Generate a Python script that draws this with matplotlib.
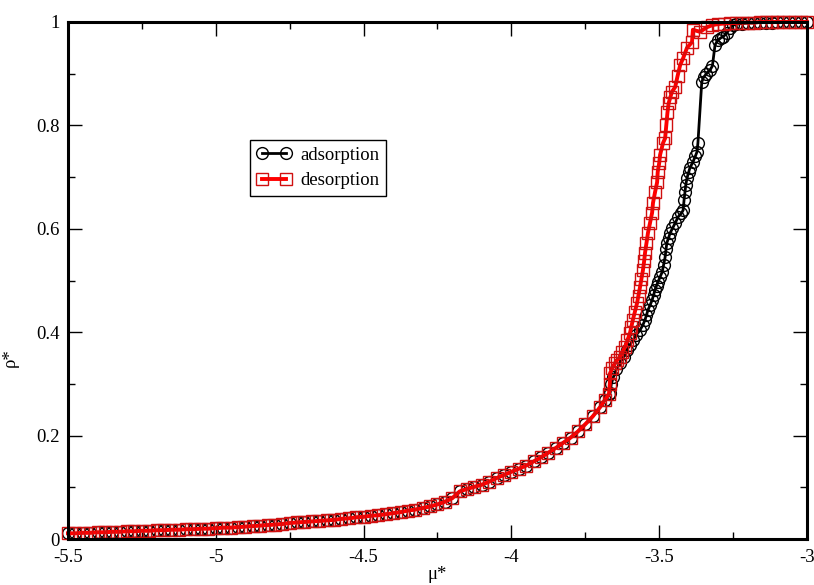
#!/usr/bin/env python
# -*- coding: utf-8 -*-
import matplotlib
matplotlib.use('Agg')
import matplotlib.pyplot as plt
from matplotlib.ticker import MultipleLocator, FormatStrFormatter

plt.rcParams['font.family'] = ['Liberation Serif', 'DejaVu Serif']
plt.rcParams['axes.unicode_minus'] = False

# common low-pressure part (both branches lie on top of each other here)
mu_low = [-5.500, -5.475, -5.450, -5.425, -5.400, -5.375, -5.350, -5.325,
          -5.300, -5.275, -5.250, -5.225, -5.200, -5.175, -5.150, -5.125,
          -5.100, -5.075, -5.050, -5.025, -5.000, -4.975, -4.950, -4.925,
          -4.900, -4.875, -4.850, -4.825, -4.800, -4.775, -4.750, -4.725,
          -4.700, -4.675, -4.650, -4.625, -4.600, -4.575, -4.550, -4.525,
          -4.500, -4.475, -4.450, -4.425, -4.400, -4.375, -4.350, -4.325,
          -4.300, -4.275, -4.250, -4.225, -4.200, -4.175, -4.150, -4.125,
          -4.100, -4.075, -4.050, -4.025, -4.000, -3.975, -3.950, -3.925,
          -3.900, -3.875, -3.850, -3.825, -3.800, -3.775, -3.750, -3.725,
          -3.700, -3.685, -3.670]
rho_low = [0.011, 0.011, 0.012, 0.012, 0.013, 0.013, 0.014, 0.014,
           0.015, 0.015, 0.016, 0.016, 0.017, 0.017, 0.018, 0.018,
           0.019, 0.019, 0.020, 0.020, 0.021, 0.022, 0.022, 0.023,
           0.024, 0.025, 0.026, 0.027, 0.028, 0.029, 0.031, 0.032,
           0.033, 0.034, 0.035, 0.036, 0.037, 0.039, 0.040, 0.042,
           0.043, 0.045, 0.046, 0.048, 0.050, 0.052, 0.055, 0.057,
           0.060, 0.063, 0.067, 0.072, 0.079, 0.092, 0.097, 0.101,
           0.105, 0.111, 0.118, 0.124, 0.130, 0.136, 0.142, 0.150,
           0.158, 0.167, 0.176, 0.186, 0.196, 0.208, 0.222, 0.237,
           0.255, 0.268, 0.280]

# adsorption branch after the split
mu_ads = [-3.666, -3.662, -3.655, -3.645, -3.633, -3.620, -3.609, -3.598,
          -3.589, -3.577, -3.565, -3.555, -3.548, -3.543, -3.538, -3.531,
          -3.524, -3.519, -3.514, -3.509, -3.504, -3.497, -3.490, -3.485,
          -3.480, -3.477, -3.474, -3.468, -3.463, -3.455, -3.446, -3.436,
          -3.425, -3.419, -3.416, -3.413, -3.410, -3.406, -3.400, -3.396,
          -3.386, -3.378, -3.372, -3.369, -3.356, -3.350, -3.340, -3.328,
          -3.320, -3.311, -3.301, -3.290, -3.284, -3.271, -3.260, -3.250,
          -3.240, -3.220, -3.200, -3.180, -3.160, -3.140, -3.120, -3.100,
          -3.080, -3.060, -3.040, -3.020, -3.000]
rho_ads = [0.282, 0.300, 0.313, 0.328, 0.340, 0.353, 0.366, 0.376,
           0.385, 0.395, 0.404, 0.414, 0.424, 0.433, 0.443, 0.452,
           0.462, 0.472, 0.482, 0.490, 0.497, 0.507, 0.516, 0.530,
           0.545, 0.560, 0.573, 0.583, 0.592, 0.601, 0.611, 0.623,
           0.630, 0.636, 0.655, 0.671, 0.685, 0.698, 0.710, 0.718,
           0.729, 0.740, 0.749, 0.766, 0.884, 0.893, 0.900, 0.907,
           0.915, 0.956, 0.965, 0.970, 0.971, 0.979, 0.988, 0.994,
           0.996, 0.997, 0.998, 0.998, 0.999, 0.999, 0.999, 1.000,
           1.000, 1.000, 1.000, 1.000, 1.000]

# desorption branch after the split
mu_des = [-3.667, -3.666, -3.658, -3.650, -3.642, -3.633, -3.625, -3.616,
          -3.608, -3.599, -3.594, -3.589, -3.582, -3.575, -3.570, -3.565,
          -3.560, -3.555, -3.551, -3.548, -3.543, -3.538, -3.531, -3.524,
          -3.521, -3.514, -3.507, -3.505, -3.500, -3.497, -3.487, -3.480,
          -3.476, -3.472, -3.468, -3.462, -3.457, -3.446, -3.438, -3.429,
          -3.419, -3.406, -3.389, -3.386, -3.362, -3.338, -3.320, -3.300,
          -3.280, -3.260, -3.240, -3.220, -3.200, -3.180, -3.160, -3.140,
          -3.120, -3.100, -3.080, -3.060, -3.040, -3.020, -3.000]
rho_des = [0.300, 0.321, 0.331, 0.340, 0.346, 0.352, 0.361, 0.371,
           0.384, 0.398, 0.411, 0.424, 0.440, 0.456, 0.471, 0.487,
           0.503, 0.520, 0.537, 0.553, 0.572, 0.592, 0.611, 0.631,
           0.650, 0.671, 0.690, 0.710, 0.727, 0.743, 0.766, 0.775,
           0.800, 0.825, 0.843, 0.855, 0.865, 0.874, 0.895, 0.917,
           0.930, 0.950, 0.961, 0.985, 0.981, 0.990, 0.994, 0.996,
           0.997, 0.998, 0.998, 0.999, 0.999, 0.999, 1.000, 1.000,
           1.000, 1.000, 1.000, 1.000, 1.000, 1.000, 1.000]

fig = plt.figure(figsize=(8.14, 5.85), dpi=100)
ax = fig.add_axes([0.0835, 0.0786, 0.9079, 0.8838])

ax.plot(mu_low + mu_ads, rho_low + rho_ads, color='black', lw=2.0,
        marker='o', ms=8.5, mfc='none', mec='black', mew=1.0,
        label='adsorption', clip_on=False, zorder=3)
ax.plot(mu_low + mu_des, rho_low + rho_des, color='red', lw=2.8,
        marker='s', ms=9, mfc='none', mec='#d01010', mew=1.0,
        label='desorption', clip_on=False, zorder=4)

ax.set_xlim(-5.5, -3)
ax.set_ylim(0, 1)
ax.xaxis.set_major_locator(MultipleLocator(0.5))
ax.xaxis.set_minor_locator(MultipleLocator(0.25))
ax.yaxis.set_major_locator(MultipleLocator(0.2))
ax.yaxis.set_minor_locator(MultipleLocator(0.1))
ax.xaxis.set_major_formatter(FormatStrFormatter('%g'))
ax.yaxis.set_major_formatter(FormatStrFormatter('%g'))
ax.tick_params(which='both', direction='in', top=True, right=True,
               labelsize=13.5, width=1.0)
ax.tick_params(axis='x', which='major', pad=7)
ax.tick_params(axis='y', which='major', pad=6)
ax.tick_params(which='major', length=10)
ax.tick_params(which='minor', length=5)
for s in ax.spines.values():
    s.set_linewidth(2.2)
    s.set_zorder(5)

ax.set_xlabel('μ*', fontsize=13.5, labelpad=0)
ax.set_ylabel('ρ*', fontsize=13.5)
ax.yaxis.set_label_coords(-0.066, 0.35)

leg = ax.legend(loc='upper left', bbox_to_anchor=(0.246, 0.772),
                fontsize=13.5, numpoints=2, handlelength=1.9,
                fancybox=False, framealpha=1, edgecolor='black',
                borderpad=0.35, labelspacing=0.45, handletextpad=0.45,
                borderaxespad=0)
leg.get_frame().set_linewidth(1.0)

fig.savefig('out.png', dpi=100)
